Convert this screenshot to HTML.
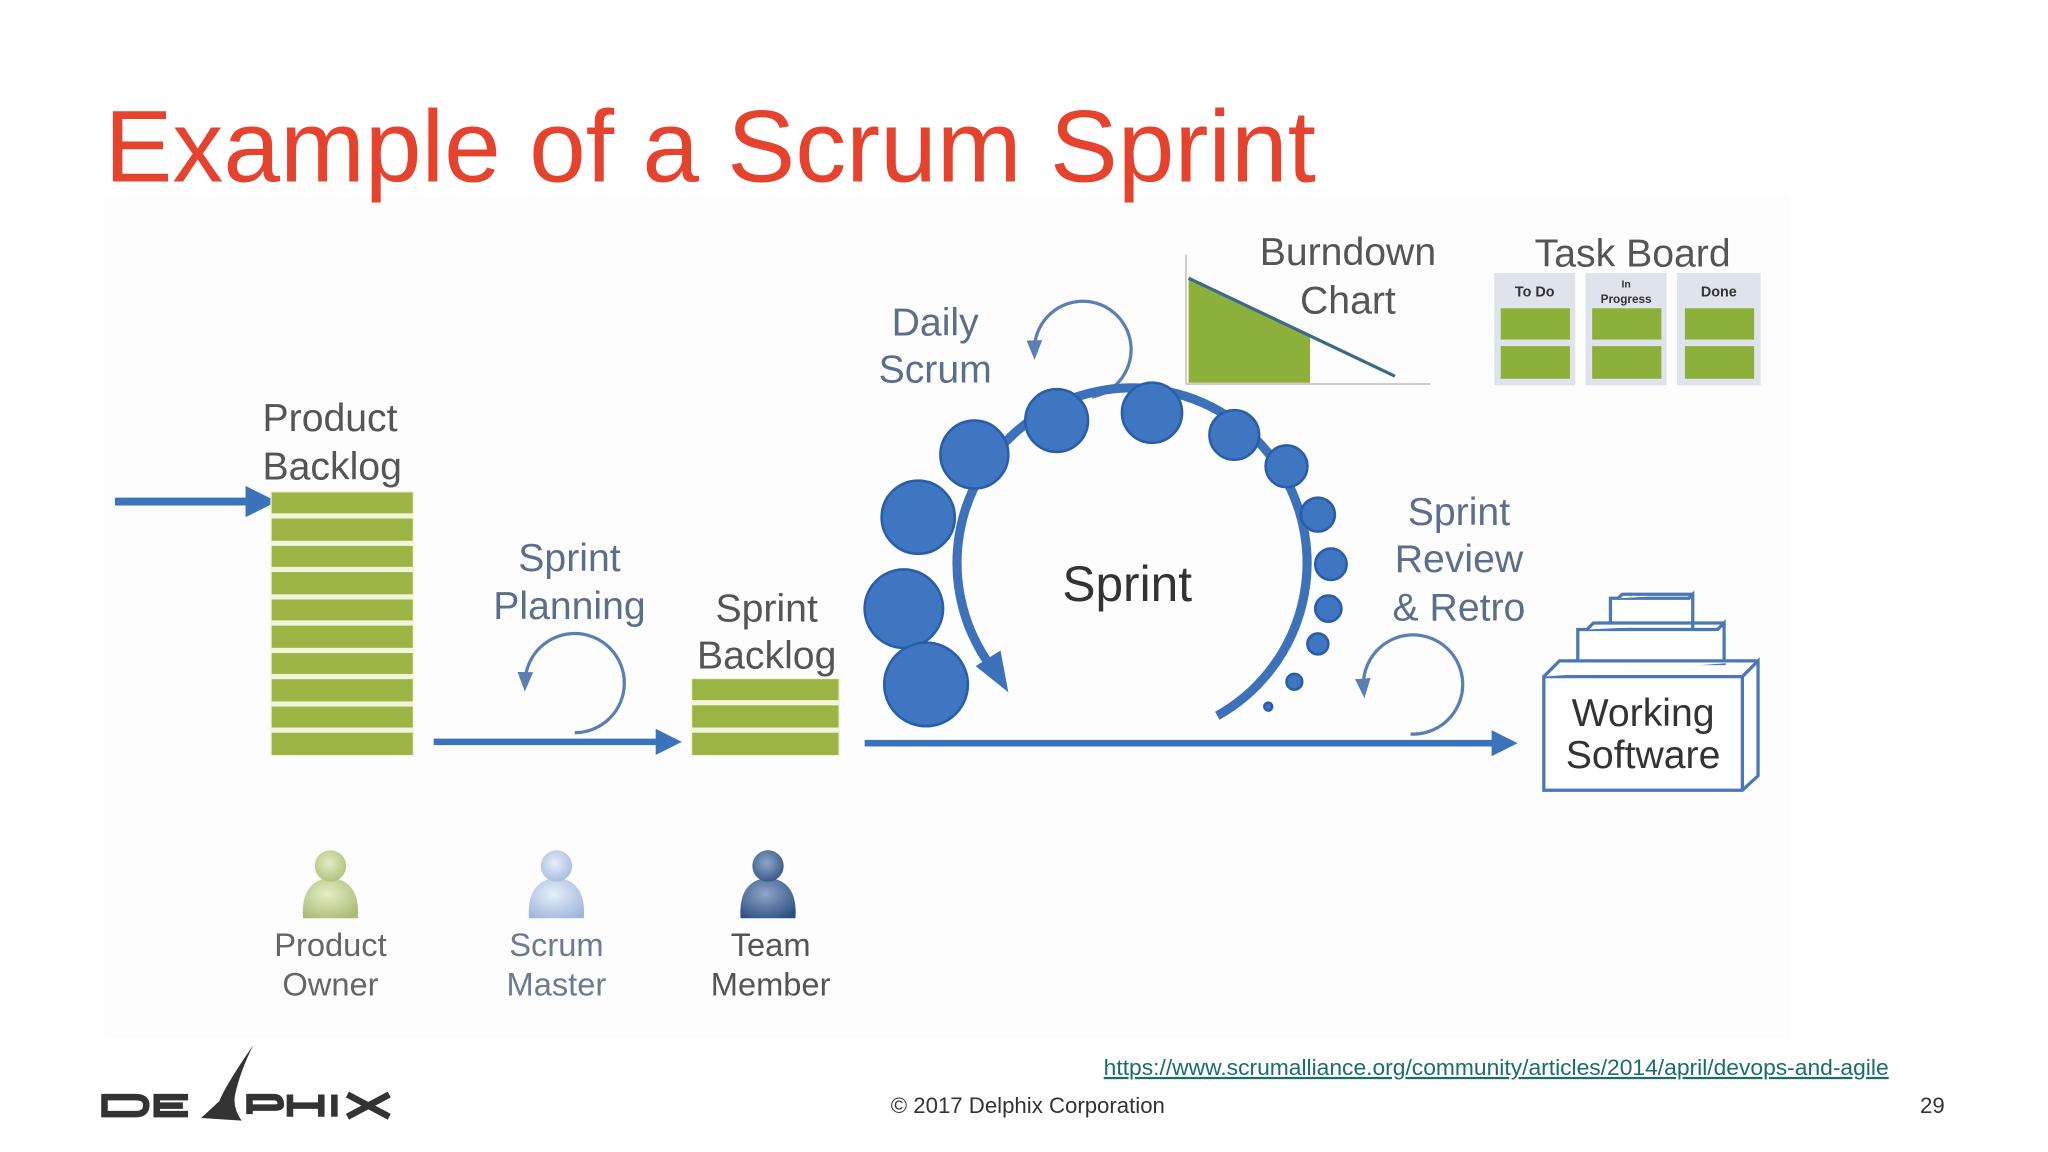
<!DOCTYPE html>
<html><head><meta charset="utf-8"><style>
html,body{margin:0;padding:0;background:#fff;}
svg{display:block;}
text{font-family:"Liberation Sans",sans-serif;}
</style></head><body>
<svg width="2048" height="1152" viewBox="0 0 1568 882" xmlns="http://www.w3.org/2000/svg">
<defs>
<marker id="ah" viewBox="0 0 10 10" refX="5" refY="5" markerWidth="4" markerHeight="4" orient="auto"><path d="M0,0 L10,5 L0,10 z" fill="#3b73bb"/></marker>
<marker id="ahs" viewBox="0 0 10 10" refX="5" refY="5" markerWidth="6" markerHeight="6" orient="auto"><path d="M0,1 L10,5 L0,9 z" fill="#5a7fb0"/></marker>
<radialGradient id="gG" cx="0.45" cy="0.4" r="0.7"><stop offset="0" stop-color="#e3ecc6"/><stop offset="1" stop-color="#a9bd72"/></radialGradient>
<radialGradient id="gB" cx="0.45" cy="0.4" r="0.7"><stop offset="0" stop-color="#e6eef9"/><stop offset="1" stop-color="#9fb6dc"/></radialGradient>
<radialGradient id="gN" cx="0.45" cy="0.4" r="0.7"><stop offset="0" stop-color="#8ea6c9"/><stop offset="1" stop-color="#2e4f80"/></radialGradient>
</defs>
<rect width="1568" height="882" fill="#fff"/>
<rect x="80" y="150" width="1290" height="645" fill="#fdfdfd"/>
<text x="80" y="139" font-size="78" fill="#e5432e">Example of a Scrum Sprint</text>

<line x1="88" y1="384" x2="200" y2="384" stroke="#3b73bb" stroke-width="6" marker-end="url(#ah)"/>
<g fill="#555" font-size="30">
<text x="201" y="330">Product</text><text x="201" y="367">Backlog</text>
</g>
<rect x="207" y="376" width="110" height="203" fill="#f0f4d8"/>
<g fill="#9bb443">
<rect x="208" y="377" width="108" height="16"/><rect x="208" y="397" width="108" height="17"/>
<rect x="208" y="418" width="108" height="16"/><rect x="208" y="438" width="108" height="17"/>
<rect x="208" y="459" width="108" height="16"/><rect x="208" y="479" width="108" height="17"/>
<rect x="208" y="500" width="108" height="16"/><rect x="208" y="520" width="108" height="17"/>
<rect x="208" y="541" width="108" height="16"/><rect x="208" y="561" width="108" height="17"/>
</g>
<g fill="#5c6f8a" font-size="30" text-anchor="middle">
<text x="436" y="437">Sprint</text><text x="436" y="474">Planning</text>
</g>
<path d="M440 561 A38 38 0 1 0 402 522" fill="none" stroke="#5a7fb0" stroke-width="2.5" marker-end="url(#ahs)"/>
<line x1="332" y1="568" x2="512" y2="568" stroke="#3b73bb" stroke-width="5" marker-end="url(#ah)"/>
<g fill="#555" font-size="30" text-anchor="middle">
<text x="587" y="476">Sprint</text><text x="587" y="512">Backlog</text>
</g>
<rect x="529" y="519" width="114" height="60" fill="#f0f4d8"/>
<g fill="#9bb443"><rect x="530" y="520" width="112" height="16"/><rect x="530" y="540" width="112" height="17"/><rect x="530" y="561" width="112" height="17"/></g>
<line x1="662" y1="569" x2="1152" y2="569" stroke="#3b73bb" stroke-width="5" marker-end="url(#ah)"/>

<g fill="#5c6f8a" font-size="30" text-anchor="middle">
<text x="716" y="257">Daily</text><text x="716" y="293">Scrum</text>
</g>
<path d="M836 304 A37 37 0 1 0 792 268" fill="none" stroke="#5a7fb0" stroke-width="2.5" marker-end="url(#ahs)"/>

<path d="M932 548 A134 134 0 1 0 760 512" fill="none" stroke="#3d72bb" stroke-width="7"/>
<path d="M747 510 L772 530 L766 498 z" fill="#3d72bb"/>
<text x="863" y="460" font-size="38" fill="#333" text-anchor="middle">Sprint</text>
<g fill="#3e76c2" stroke="#2a5ea8" stroke-width="2">
<circle cx="703" cy="396" r="28"/><circle cx="692" cy="466" r="30"/><circle cx="709" cy="524" r="32"/>
<circle cx="746" cy="348" r="26"/><circle cx="809" cy="322" r="24"/><circle cx="882" cy="316" r="23"/>
<circle cx="945" cy="333" r="19"/><circle cx="985" cy="357" r="16"/><circle cx="1009" cy="394" r="13"/>
<circle cx="1019" cy="432" r="12"/><circle cx="1017" cy="466" r="10"/><circle cx="1009" cy="493" r="8"/>
<circle cx="991" cy="522" r="6"/><circle cx="971" cy="541" r="3"/>
</g>

<path d="M910 213 L1003 257 L1003 293 L910 293 z" fill="#8cb03a"/>
<line x1="908" y1="195" x2="908" y2="294" stroke="#ccc" stroke-width="1.5"/>
<line x1="908" y1="294" x2="1095" y2="294" stroke="#ccc" stroke-width="1.5"/>
<line x1="910" y1="213" x2="1068" y2="288" stroke="#3b6a8a" stroke-width="2.5"/>
<g fill="#555" font-size="30" text-anchor="middle">
<text x="1032" y="203">Burndown</text><text x="1032" y="240">Chart</text>
</g>
<text x="1250" y="204" font-size="30" fill="#555" text-anchor="middle">Task Board</text>
<g fill="#dfe4ec"><rect x="1144" y="209" width="62" height="86"/><rect x="1214" y="209" width="62" height="86"/><rect x="1284" y="209" width="64" height="86"/></g>
<g fill="#8cb03a"><rect x="1149" y="236" width="53" height="24"/><rect x="1149" y="265" width="53" height="25"/>
<rect x="1219" y="236" width="53" height="24"/><rect x="1219" y="265" width="53" height="25"/>
<rect x="1290" y="236" width="53" height="24"/><rect x="1290" y="265" width="53" height="25"/></g>
<g font-size="11" font-weight="bold" fill="#333" text-anchor="middle">
<text x="1175" y="227">To Do</text><text x="1316" y="227">Done</text>
<text x="1245" y="220" font-size="8">In</text><text x="1245" y="232" font-size="9">Progress</text>
</g>

<g fill="#5c6f8a" font-size="30" text-anchor="middle">
<text x="1117" y="402">Sprint</text><text x="1117" y="438">Review</text><text x="1117" y="475">&amp; Retro</text>
</g>
<path d="M1080 562 A38 38 0 1 0 1044 527" fill="none" stroke="#5a7fb0" stroke-width="2.5" marker-end="url(#ahs)"/>

<g fill="#fff" stroke="#4b78b5" stroke-width="2.5">
<path d="M1233 458 L1293 458 L1296 455 L1296 482 L1233 482 z"/><path d="M1239 458 L1242 455 L1296 455"/>
<path d="M1208 482 L1315 482 L1320 477 L1320 508 L1208 508 z"/><path d="M1215 482 L1220 477 L1320 477"/>
<path d="M1182 518 L1334 518 L1346 506 L1346 594 L1334 605 L1182 605 z"/>
<path d="M1182 518 L1194 506 L1346 506"/><line x1="1334" y1="518" x2="1334" y2="605"/>
</g>
<g fill="#333" font-size="30" text-anchor="middle">
<text x="1258" y="556">Working</text><text x="1258" y="588">Software</text>
</g>

<g>
<path d="M232 703 Q230 674 253 672 Q276 674 274 703 z" fill="url(#gG)"/><circle cx="253" cy="663" r="12" fill="url(#gG)"/>
<path d="M405 703 Q403 674 426 672 Q449 674 447 703 z" fill="url(#gB)"/><circle cx="426" cy="663" r="12" fill="url(#gB)"/>
<path d="M567 703 Q565 674 588 672 Q611 674 609 703 z" fill="url(#gN)"/><circle cx="588" cy="663" r="12" fill="url(#gN)"/>
</g>
<g font-size="25" text-anchor="middle">
<text x="253" y="732" fill="#666">Product</text><text x="253" y="762" fill="#666">Owner</text>
<text x="426" y="732" fill="#6a7b92">Scrum</text><text x="426" y="762" fill="#6a7b92">Master</text>
<text x="590" y="732" fill="#555">Team</text><text x="590" y="762" fill="#555">Member</text>
</g>

<text x="845" y="823" font-size="17" fill="#1a6e6a" textLength="601" lengthAdjust="spacingAndGlyphs" text-decoration="underline">https://www.scrumalliance.org/community/articles/2014/april/devops-and-agile</text>
<text x="682" y="852" font-size="17" fill="#333">© 2017 Delphix Corporation</text>
<text x="1470" y="852" font-size="17" fill="#333">29</text>

<g fill="none" stroke="#333" stroke-width="5">
<path d="M80 840 L104 840 Q112 840 112 846 Q112 853 104 853 L80 853 z"/>
<path d="M144 840 L120 840 L120 853 L144 853 M120 846.5 L140 846.5"/>
<path d="M191 853 L191 840 L210 840 Q215 840 215 846 Q215 848 210 848 L191 848"/>
<path d="M222 838 L222 855 M246 838 L246 855 M222 846.5 L246 846.5"/>
<path d="M256 838 L256 855"/>
<path d="M266 838 L298 855 M298 838 L266 855"/>
</g>
<path d="M194 800 Q172 832 168 843 L154 856 L185 858 Q178 848 180 838 Q184 820 194 800 z" fill="#333"/>
</svg>
</body></html>
